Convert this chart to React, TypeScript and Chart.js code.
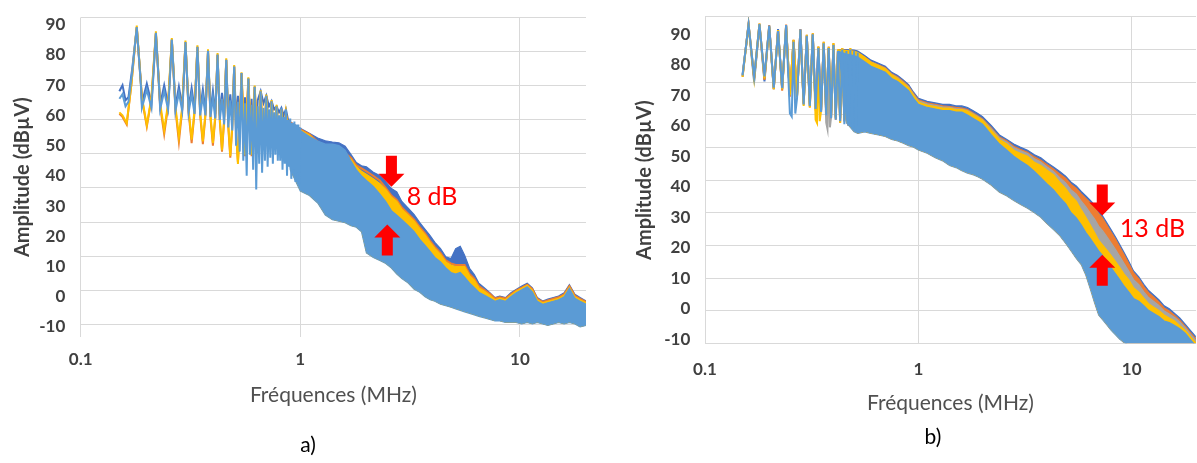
import React, { useEffect, useRef } from 'react';
import { Chart, registerables } from 'chart.js';

Chart.register(...registerables);

type Pair = [number, number];

// ---------- colours (Excel default palette) ----------
const C_DB = '#4472C4';
const C_OR = '#ED7D31';
const C_GR = '#A5A5A5';
const C_YE = '#FFC000';
const C_LB = '#5B9BD5';
const GRID = '#D9D9D9';

// ---------- axis texts / ticks ----------
const X_TITLE = 'Fréquences (MHz)';
const Y_TITLE = 'Amplitude (dBµV)';
const X_TICKS = [0.1, 1, 10];
const X_TICK_LABELS = ['0.1', '1', '10'];
const Y_TICKS = [-10, 0, 10, 20, 30, 40, 50, 60, 70, 80, 90];
const A_GRID_TICKS = [-10, 0, 10, 20, 30, 40, 50, 60, 70, 80];
const B_GRID_TICKS = [-10, 0, 10, 20, 30, 40, 50, 60, 70, 80, 90];

// =====================================================================
// Panel a) — low-frequency harmonics (frequency MHz, amplitude dBµV)
// =====================================================================
const A_LB_LOW: Pair[] = [
  [0.15, 65.5], [0.155, 67], [0.16, 63], [0.165, 64.5], [0.172, 75], [0.18, 89.2], [0.188, 70], [0.19, 62.5],
  [0.2, 68.5], [0.21, 62.5], [0.213, 70], [0.22, 87.3], [0.228, 68], [0.23, 62], [0.24, 68], [0.25, 62],
  [0.253, 68], [0.26, 85.1], [0.268, 67], [0.27, 61.5], [0.28, 67.5], [0.29, 61.5], [0.293, 67], [0.3, 84.3],
  [0.308, 66], [0.31, 61], [0.32, 67], [0.33, 60.5], [0.333, 66], [0.34, 82.7], [0.35, 60], [0.36, 66.5],
  [0.37, 60], [0.38, 81.4], [0.39, 59.5], [0.4, 66], [0.41, 59], [0.42, 80.1], [0.43, 58.5], [0.44, 65.5],
  [0.45, 57], [0.46, 78.4], [0.47, 56], [0.48, 65], [0.49, 55], [0.5, 76.2], [0.51, 50], [0.52, 64.5],
  [0.53, 48], [0.54, 74], [0.55, 45], [0.56, 64], [0.57, 40], [0.58, 72.2], [0.59, 47], [0.6, 63.5],
  [0.61, 42], [0.62, 69.5], [0.63, 35.5], [0.64, 63], [0.65, 44], [0.66, 68], [0.67, 41], [0.68, 62.5],
  [0.69, 45], [0.7, 66.5], [0.71, 43], [0.72, 62], [0.73, 46], [0.74, 64.7], [0.75, 44], [0.76, 61],
  [0.77, 47], [0.78, 63], [0.79, 45], [0.8, 60], [0.81, 45], [0.82, 62.5], [0.83, 42], [0.84, 59.5],
  [0.85, 44], [0.86, 62], [0.87, 40], [0.88, 58.5], [0.89, 43], [0.9, 59], [0.91, 39], [0.92, 57.5],
  [0.93, 42], [0.94, 58], [0.95, 38], [0.96, 57], [0.97, 41], [0.98, 57], [0.99, 37], [1.0, 56],
];
const A_YE_LOW: Pair[] = [
  [0.15, 61], [0.155, 60], [0.162, 57.4], [0.17, 70], [0.18, 89.7], [0.19, 66], [0.2, 56.8], [0.21, 66],
  [0.22, 87.8], [0.23, 64], [0.24, 55.2], [0.25, 64], [0.26, 85.6], [0.27, 63], [0.28, 53], [0.29, 63],
  [0.3, 84.8], [0.31, 62], [0.32, 52], [0.33, 62], [0.34, 83.2], [0.35, 61], [0.36, 51.4], [0.37, 61],
  [0.38, 81.9], [0.39, 60], [0.4, 50.9], [0.41, 60], [0.42, 80.6], [0.43, 59], [0.44, 48.5], [0.45, 59],
  [0.46, 78.9], [0.47, 57], [0.48, 46.6], [0.49, 57], [0.5, 76.7], [0.51, 55], [0.52, 43.9], [0.53, 56],
  [0.54, 74.3], [0.56, 47], [0.58, 72.6], [0.6, 47], [0.62, 69.9], [0.64, 48], [0.66, 68.3], [0.68, 50],
  [0.7, 66.9], [0.72, 51], [0.74, 65.1], [0.76, 52], [0.78, 63.5], [0.8, 53], [0.82, 62], [0.84, 54],
  [0.86, 61], [0.88, 55], [0.9, 57.5],
];
const A_OR_LOW: Pair[] = [
  [0.15, 60.5], [0.155, 59.5], [0.162, 57], [0.17, 70], [0.18, 89.2], [0.19, 65.5], [0.2, 56.3], [0.21, 65.5],
  [0.22, 87.3], [0.23, 63], [0.24, 53.8], [0.25, 63], [0.26, 85.1], [0.27, 62], [0.28, 51.2], [0.29, 62],
  [0.3, 84.3], [0.31, 61], [0.32, 50.8], [0.33, 61], [0.34, 82.7], [0.35, 60], [0.36, 50.5], [0.37, 60],
  [0.38, 81.4], [0.39, 59], [0.4, 50], [0.41, 59], [0.42, 80.1], [0.43, 58], [0.44, 48], [0.45, 58],
  [0.46, 78.4], [0.47, 56], [0.48, 46], [0.49, 56], [0.5, 76.2], [0.51, 54], [0.52, 44.5], [0.53, 55],
  [0.54, 73.8], [0.56, 46.5], [0.58, 72.2], [0.6, 46.5], [0.62, 69.5], [0.64, 47.5], [0.66, 67.9], [0.68, 49.5],
  [0.7, 66.5], [0.72, 50.5], [0.74, 64.7], [0.76, 51.5], [0.78, 63.1], [0.8, 52.5], [0.82, 62], [0.84, 53.5],
  [0.86, 60.5], [0.88, 55], [0.9, 57.7],
];
const A_DB_LOW: Pair[] = [
  [0.15, 68], [0.155, 70], [0.16, 65], [0.165, 66], [0.172, 76], [0.18, 89], [0.188, 71], [0.19, 64],
  [0.2, 70.5], [0.21, 64], [0.213, 71], [0.22, 87], [0.228, 69], [0.23, 63.5], [0.24, 70], [0.25, 63.5],
  [0.253, 69], [0.26, 85], [0.268, 68], [0.27, 63], [0.28, 69.5], [0.29, 63], [0.3, 84], [0.31, 62.5],
  [0.32, 69], [0.33, 62], [0.34, 82.5], [0.35, 62], [0.36, 68.5], [0.37, 61.5], [0.38, 81.2], [0.39, 61],
  [0.4, 68], [0.41, 60.5], [0.42, 80], [0.43, 60], [0.44, 67.5], [0.45, 59.5], [0.46, 78.3], [0.47, 59],
  [0.48, 67], [0.49, 58.5], [0.5, 76.2], [0.51, 58], [0.52, 66.5], [0.53, 57], [0.54, 74], [0.55, 56],
  [0.56, 66], [0.57, 55], [0.58, 72.2], [0.59, 54], [0.6, 65.5], [0.61, 52], [0.62, 69.5], [0.63, 53],
  [0.64, 65], [0.66, 68], [0.68, 64], [0.7, 66.5], [0.72, 63], [0.74, 64.7], [0.76, 62], [0.78, 63],
  [0.8, 61], [0.82, 62.5], [0.84, 60], [0.86, 62], [0.88, 58.5], [0.9, 57.9],
];

// Panel a) — dense part, envelopes on a common frequency list
const A_F = [
  0.85, 0.9, 1.0, 1.1, 1.2, 1.3, 1.4, 1.5, 1.6, 1.7, 1.8, 1.9, 2.0, 2.15, 2.3, 2.45, 2.6, 2.75, 2.9, 3.1,
  3.3, 3.5, 3.7, 3.9, 4.1, 4.35, 4.6, 4.85, 5.1, 5.35, 5.6, 5.9, 6.2, 6.5, 6.9, 7.3, 7.7, 8.1, 8.6, 9.1,
  9.6, 10.2, 10.8, 11.4, 12.0, 12.7, 13.4, 14.2, 15.0, 15.9, 16.8, 17.8, 18.8, 20.0,
];
const A_DB_UP = [
  59.5, 57.9, 55.7, 54.1, 52.5, 51.6, 51.2, 50.9, 49.8, 47.1, 44.4, 43.3, 43.0, 41.2, 40.1, 38.0, 35.8, 34.7, 31.5, 29.3,
  27.2, 24.5, 22.3, 20.2, 18.0, 15.9, 13.2, 12.6, 15.9, 16.7, 13.7, 9.4, 7.3, 4.5, 2.9, 1.3, -0.3, 0.2, -0.3, 1.3,
  2.4, 3.5, 4.5, 2.9, -0.3, -1.4, -0.8, -0.3, 0.2, 1.3, 4.0, 0.8, -0.3, -1.4,
];
const A_OR_UP = [
  59, 57.7, 55.4, 53.8, 51.3, 49.5, 48.5, 48, 47.5, 46, 43.5, 42.5, 41.5, 40, 38.5, 36, 33.5, 32, 29.5, 27.5,
  25.5, 23, 21, 18.5, 16.5, 14.5, 12, 11, 10.5, 10.5, 10.5, 7.5, 6, 3.5, 2.2, 1, -0.6, -0.2, -0.6, 0.8,
  2, 3, 4, 2.5, -0.7, -1.7, -1.2, -0.7, -0.2, 0.8, 3.5, 0.3, -0.7, -1.7,
];
const A_YE_UP = [
  58.8, 57.5, 55.2, 53.5, 51, 49, 48, 47.5, 47, 45.5, 43, 41.5, 40.5, 39, 37.5, 35.5, 33, 31.5, 29, 27,
  25, 22.5, 20.5, 18, 16, 14, 11.5, 10.5, 10, 10, 10, 7, 5.5, 3, 1.8, 0.5, -1, -0.5, -1, 0.5,
  1.8, 2.8, 3.8, 2.2, -1, -2, -1.5, -1, -0.5, 0.5, 3.2, 0, -1, -2,
];
const A_LB_UP = [
  58.5, 56, 55, 53, 51.5, 50.5, 50.5, 50, 48.5, 45, 42, 40, 38.5, 36.5, 34, 31.5, 28.5, 27, 25.5, 23.5,
  21.5, 19, 17, 15, 13, 11.5, 9.5, 8, 7.5, 8, 6.5, 4.5, 3, 1.5, 0.5, -0.5, -1.5, -1, -1.5, 0,
  1.2, 2.3, 3.3, 1.6, -1.5, -2.5, -2, -1.5, -1, 0, 2.8, -0.5, -1.5, -2.5,
];
const A_LB_LO = [
  58.5, 42, 35, 33.5, 31, 27, 25.5, 25, 24.5, 23.5, 23, 21.5, 14.5, 13, 12, 11, 9.5, 7.5, 6, 4.5,
  2.5, 1.5, 0, -1, -1.5, -2.5, -3, -3.5, -4, -4.5, -5, -5.5, -6, -6.5, -7, -7.5, -8, -8, -8.5, -8.5,
  -8.5, -9, -8.5, -9, -8.5, -9, -9.5, -9, -8.5, -9, -8.5, -9, -10, -9.5,
];

// =====================================================================
// Panel b)
// =====================================================================
const B_LB_LOW: Pair[] = [
  [0.15, 76.5], [0.16, 93.2], [0.17, 76], [0.18, 93.3], [0.19, 76.2], [0.2, 92.8], [0.21, 72.5], [0.22, 91],
  [0.23, 72.3], [0.24, 93], [0.25, 64], [0.255, 63], [0.26, 87.5], [0.265, 64], [0.27, 69], [0.28, 91.5],
  [0.29, 67], [0.3, 89.5], [0.31, 66.5], [0.32, 90], [0.33, 65.5], [0.34, 85.5], [0.35, 64.5], [0.36, 87],
  [0.37, 63.5], [0.38, 85.5], [0.39, 62.5], [0.4, 86.5], [0.41, 62], [0.42, 84.5], [0.43, 61.5], [0.44, 85],
  [0.45, 60.5], [0.46, 84.5], [0.47, 60], [0.48, 85], [0.49, 59], [0.5, 84.5], [0.51, 58.5], [0.52, 84],
];
const B_YE_LOW: Pair[] = [
  [0.15, 76], [0.16, 93], [0.17, 75.5], [0.18, 93.5], [0.19, 75.5], [0.2, 92.5], [0.21, 72], [0.22, 91.4],
  [0.23, 72], [0.24, 92.7], [0.25, 70], [0.26, 88.2], [0.27, 69.5], [0.28, 91.2], [0.29, 66.5], [0.3, 89.8],
  [0.31, 66], [0.32, 90.3], [0.33, 62], [0.335, 61], [0.34, 86], [0.345, 61.5], [0.35, 65], [0.36, 87.5],
  [0.37, 64], [0.38, 85.8], [0.39, 63], [0.4, 87.1], [0.41, 62.5], [0.42, 85], [0.43, 61], [0.44, 85.5],
  [0.45, 62], [0.46, 84.5], [0.47, 61.5], [0.48, 85.5], [0.49, 61], [0.5, 84.5],
];
const B_GR_LOW: Pair[] = [
  [0.15, 76.3], [0.16, 93.3], [0.17, 76], [0.18, 93.2], [0.19, 76], [0.2, 92.7], [0.21, 72.5], [0.22, 91.2],
  [0.23, 72.5], [0.24, 93], [0.25, 70], [0.26, 88], [0.27, 70], [0.28, 91.5], [0.29, 67], [0.3, 89.6],
  [0.31, 66.5], [0.32, 90], [0.33, 65.5], [0.34, 85.8], [0.35, 65], [0.36, 87.2], [0.37, 61], [0.375, 59],
  [0.38, 85.5], [0.385, 59.5], [0.39, 63], [0.4, 86.8], [0.41, 62.5], [0.42, 84.8], [0.43, 62], [0.44, 85.2],
  [0.45, 61.5], [0.46, 84.3], [0.47, 61], [0.48, 85.2], [0.49, 60.5], [0.5, 84.3],
];
const B_OR_LOW: Pair[] = [
  [0.15, 76], [0.16, 93.4], [0.17, 75.5], [0.18, 93.5], [0.19, 75], [0.2, 93], [0.21, 72], [0.22, 91.4],
  [0.23, 71.5], [0.24, 93.2], [0.25, 69.5], [0.26, 88.2], [0.27, 69.5], [0.28, 91.7], [0.29, 67], [0.3, 89.8],
  [0.31, 66], [0.32, 90.3], [0.33, 65], [0.34, 86], [0.35, 64.5], [0.36, 87.5], [0.37, 63.5], [0.38, 86],
  [0.39, 62.5], [0.4, 87], [0.41, 62], [0.42, 85], [0.43, 61], [0.44, 85.5], [0.45, 61.4], [0.46, 84.5],
  [0.47, 60], [0.48, 85.3], [0.49, 59.5], [0.5, 84.6],
];
const B_DB_LOW: Pair[] = [
  [0.15, 76.8], [0.16, 93], [0.17, 74.5], [0.18, 93], [0.19, 74.5], [0.2, 92.5], [0.21, 72], [0.22, 91.7],
  [0.23, 72], [0.24, 92.8], [0.25, 70], [0.26, 88], [0.27, 70], [0.28, 91.5], [0.29, 67.5], [0.3, 89.5],
  [0.31, 67], [0.32, 90], [0.33, 66], [0.34, 85.8], [0.35, 65], [0.36, 87], [0.37, 64.5], [0.38, 85.5],
  [0.39, 63.5], [0.4, 86.5], [0.41, 63], [0.42, 84.5], [0.43, 62.5], [0.44, 85], [0.45, 62], [0.46, 84.5],
  [0.47, 61.5], [0.48, 85], [0.49, 60], [0.5, 84.5],
];

const B_F = [
  0.42, 0.46, 0.5, 0.52, 0.56, 0.6, 0.65, 0.7, 0.75, 0.8, 0.85, 0.9, 0.95, 1.0, 1.1, 1.2, 1.3, 1.4, 1.5, 1.6,
  1.7, 1.8, 1.9, 2.0, 2.2, 2.4, 2.6, 2.8, 3.0, 3.25, 3.5, 3.75, 4.0, 4.3, 4.6, 4.9, 5.2, 5.5, 5.8, 6.1,
  6.4, 6.7, 7.0, 7.3, 7.6, 8.0, 8.4, 8.8, 9.2, 9.7, 10.2, 10.8, 11.4, 12.0, 12.7, 13.4, 14.2, 15.0, 15.9, 16.8,
  17.8, 18.8, 20.0,
];
const B_DB_UP = [
  85, 85, 84.8, 84.5, 83, 81.5, 80.5, 79.5, 77.5, 76.5, 75, 73.5, 71, 69, 68, 67.5, 67, 67, 66.5, 66.5,
  66, 65, 64, 63, 60, 57, 55.5, 54, 53, 52, 50.5, 49.5, 48, 46.5, 45, 43.5, 41.5, 40.3, 38.5, 37,
  35.5, 34, 32, 30.5, 28.5, 26, 23.5, 21, 18.5, 15.5, 12.4, 10.5, 8, 6, 4.5, 3, 1, 0, -1.5, -3,
  -5, -7, -9.2,
];
const B_OR_UP = [
  84.8, 84.7, 84.3, 84, 82.5, 81, 80, 79, 77, 76, 74.5, 73, 70.5, 68.5, 67.5, 67, 66.5, 66.3, 66, 65.8,
  65.3, 64.3, 63.3, 62.2, 59.3, 56.3, 55, 53.3, 52.3, 51.3, 49.8, 48.7, 47.3, 45.8, 44.2, 42.8, 40.8, 39.5, 37.7, 36.2,
  34.7, 33.2, 31.2, 29.7, 27.7, 25.2, 22.8, 20.2, 17.8, 14.8, 11.8, 9.8, 7.3, 5.3, 3.8, 2.3, 0.3, -0.7, -2.2, -3.7,
  -5.7, -7.7, -9.9,
];
const B_GR_UP = [
  84.6, 84.5, 84.2, 83.8, 82.3, 80.9, 79.8, 78.8, 76.8, 75.7, 74.2, 72.7, 70.2, 68.2, 67.2, 66.7, 66.2, 66, 65.6, 65.5,
  65, 64, 63, 62, 59, 56, 54.6, 52.9, 51.9, 50.9, 49.2, 48.1, 46.6, 45, 43, 41.3, 39, 37.6, 35.3, 33.4,
  31.3, 29.4, 27.1, 25.6, 23.9, 21.6, 19.4, 17.1, 14.9, 12.3, 9.6, 7.9, 5.6, 3.7, 2.4, 1.1, -0.7, -1.7, -2.8, -4.3,
  -6.2, -8.2, -10.4,
];
const B_YE_UP = [
  84.9, 84.6, 84.4, 84, 82.5, 80.8, 79.7, 78.7, 76.7, 75.5, 74, 72.5, 70, 67.8, 66.8, 66.3, 65.8, 65.8, 65.3, 65.3,
  64.8, 63.8, 62.8, 61.8, 58.5, 55.5, 54, 52, 51, 50, 48, 47, 45.5, 44, 41.5, 39.5, 37, 35.3, 32.5, 30,
  27.5, 25, 22.5, 21, 19.5, 17.5, 15.5, 13.5, 11.5, 9.5, 6.9, 5.5, 3.5, 1.7, 0.5, -0.5, -2, -3, -4, -5.5,
  -7, -9, -11.2,
];
const B_LB_UP = [
  84.5, 83.5, 83, 82.5, 81, 79.5, 78.5, 77.5, 75.5, 74.5, 73, 71.5, 69, 67, 66, 65.5, 65, 65, 64.5, 64.5,
  63.5, 62.5, 61.5, 60.5, 57, 54, 52, 50, 48.5, 47, 45, 43, 41, 39, 36.5, 34.5, 31.5, 29.8, 27.5, 25,
  23, 21, 19, 17.5, 15.5, 13.5, 11.5, 9.5, 7.5, 5.5, 3.4, 2.5, 1, -0.5, -1.5, -2.5, -4, -4.5, -5.5, -6.5,
  -8, -10, -12.2,
];
const B_LB_LO = [
  84.5, 61, 58, 57.5, 58, 57.5, 57, 56.5, 55.5, 55, 54.3, 53.5, 53, 52.1, 51, 49.5, 48.5, 47, 46.3, 45.3,
  44.5, 44, 43.3, 42.5, 40.5, 38.2, 37, 35.5, 34.3, 33, 31.5, 30, 28, 26, 24, 21.5, 19, 16.5, 14.5, 11,
  6.5, 2, -2, -3.5, -5, -7, -8.5, -10, -11, -12, -14, -14, -14, -14, -14, -14, -14, -14, -14, -14,
  -14, -14, -14,
];

// annotations (data coordinates)
const A_ANNOT = { downF: 2.6, downV: 36.4, upF: 2.49, upV: 23.9, text: '8 dB', textF: 3.05, textV: 32.9 };
const B_ANNOT = { downF: 7.28, downV: 30.6, upF: 7.28, upV: 17.7, text: '13 dB', textF: 8.8, textV: 26.2 };

// ---------------------------------------------------------------------
const toPts = (pairs: Pair[]) => pairs.map(([x, y]) => ({ x, y }));
const zipPts = (fs: number[], vs: number[]) => fs.map((x, i) => ({ x, y: vs[i] }));

type Layer = { color: string; low: Pair[] | null; up: number[]; fill: boolean };

function buildDatasets(freqs: number[], layers: Layer[], lower: number[]) {
  const ds: any[] = [];
  const fillers: any[] = [];
  layers.forEach((l) => {
    if (l.low) {
      ds.push({
        data: toPts(l.low), borderColor: l.color, borderWidth: 2, pointRadius: 0,
        tension: 0, fill: false, xAxisID: 'x', yAxisID: 'y',
      });
    }
    const band: any = {
      data: zipPts(freqs, l.up), borderColor: l.color, backgroundColor: l.color,
      borderWidth: l.fill ? 1.2 : 2, pointRadius: 0, tension: 0, xAxisID: 'x', yAxisID: 'y', fill: false,
    };
    if (l.fill) fillers.push(band);
    ds.push(band);
  });
  const lowerIdx = ds.length;
  fillers.forEach((b) => { b.fill = { target: lowerIdx }; });
  ds.push({
    data: zipPts(freqs, lower), borderColor: C_LB, borderWidth: 1.2, pointRadius: 0,
    tension: 0, fill: false, xAxisID: 'x', yAxisID: 'y',
  });
  return ds;
}

const arrowPlugin = {
  id: 'dbArrows',
  afterDatasetsDraw(chart: any, _args: any, opts: any) {
    if (!opts || !opts.text) return;
    const { ctx } = chart;
    const xs = chart.scales.x;
    const ys = chart.scales.y;
    const arrow = (px: number, py: number, s: number) => {
      ctx.beginPath();
      ctx.moveTo(px, py);
      ctx.lineTo(px - 13, py - s * 13);
      ctx.lineTo(px - 5.5, py - s * 13);
      ctx.lineTo(px - 5.5, py - s * 31);
      ctx.lineTo(px + 5.5, py - s * 31);
      ctx.lineTo(px + 5.5, py - s * 13);
      ctx.lineTo(px + 13, py - s * 13);
      ctx.closePath();
      ctx.fill();
    };
    ctx.save();
    ctx.fillStyle = '#FF0000';
    arrow(xs.getPixelForValue(opts.downF), ys.getPixelForValue(opts.downV), 1);
    arrow(xs.getPixelForValue(opts.upF), ys.getPixelForValue(opts.upV), -1);
    ctx.font = '25px Lato';
    ctx.textAlign = 'left';
    ctx.textBaseline = 'middle';
    ctx.fillText(opts.text, xs.getPixelForValue(opts.textF), ys.getPixelForValue(opts.textV));
    ctx.restore();
  },
};

type PanelCfg = {
  left: number; width: number; padRight: number; padTop: number;
  yAxisWidth: number; yTickPad: number; yTitlePad: number; yMin: number; yMax: number;
  gridMin: number; gridMax: number; gridTicks: number[];
  xAxisHeight: number; xTickPad: number; xTitlePadBottom: number;
  panelLabel: string; labelCx: number; labelTop: number;
  datasets: any[]; annot: any;
};

const TICK_FONT = { family: 'Lato', size: 17, weight: 'bold' as const };
const TICK_COLOR = '#404040';

const PANEL_A: PanelCfg = {
  left: 0, width: 600, padRight: 14, padTop: 10,
  yAxisWidth: 80.7, yTickPad: 7.4, yTitlePad: 10.5, yMin: -13.23, yMax: 92.36,
  gridMin: -13.64, gridMax: 80, gridTicks: A_GRID_TICKS,
  xAxisHeight: 126.3, xTickPad: 13.1, xTitlePadBottom: 55.4,
  panelLabel: 'a)', labelCx: 308, labelTop: 432.5,
  datasets: buildDatasets(A_F, [
    { color: C_LB, low: A_LB_LOW, up: A_LB_UP, fill: true },
    { color: C_YE, low: A_YE_LOW, up: A_YE_UP, fill: true },
    { color: C_OR, low: A_OR_LOW, up: A_OR_UP, fill: false },
    { color: C_DB, low: A_DB_LOW, up: A_DB_UP, fill: true },
  ], A_LB_LO),
  annot: A_ANNOT,
};

const PANEL_B: PanelCfg = {
  left: 600, width: 597, padRight: 1.1, padTop: 11.7,
  yAxisWidth: 105, yTickPad: 6.7, yTitlePad: 32.5, yMin: -11.29, yMax: 95.68,
  gridMin: -10, gridMax: 90, gridTicks: B_GRID_TICKS,
  xAxisHeight: 119.7, xTickPad: 16.5, xTitlePadBottom: 47.4,
  panelLabel: 'b)', labelCx: 933, labelTop: 424.5,
  datasets: buildDatasets(B_F, [
    { color: C_LB, low: B_LB_LOW, up: B_LB_UP, fill: true },
    { color: C_YE, low: B_YE_LOW, up: B_YE_UP, fill: true },
    { color: C_GR, low: B_GR_LOW, up: B_GR_UP, fill: true },
    { color: C_OR, low: B_OR_LOW, up: B_OR_UP, fill: true },
    { color: C_DB, low: B_DB_LOW, up: B_DB_UP, fill: true },
  ], B_LB_LO),
  annot: B_ANNOT,
};

function Panel({ cfg }: { cfg: PanelCfg }) {
  const ref = useRef<HTMLCanvasElement>(null);
  useEffect(() => {
    if (!ref.current) return;
    const chart = new Chart(ref.current, {
      type: 'line',
      data: { datasets: cfg.datasets },
      plugins: [arrowPlugin],
      options: {
        responsive: false,
        animation: false,
        devicePixelRatio: 1,
        events: [],
        layout: { padding: { left: 0, right: cfg.padRight, top: cfg.padTop, bottom: 0 } },
        plugins: {
          legend: { display: false },
          tooltip: { enabled: false },
          title: { display: false },
          dbArrows: cfg.annot,
        } as any,
        scales: {
          x: {
            type: 'logarithmic', position: 'bottom', min: 0.1, max: 20,
            afterBuildTicks: (s: any) => { s.ticks = X_TICKS.map((value) => ({ value })); },
            afterFit: (s: any) => { s.height = cfg.xAxisHeight; },
            ticks: {
              autoSkip: false, maxRotation: 0, padding: cfg.xTickPad, color: TICK_COLOR, font: TICK_FONT,
              callback: (_v: any, i: number) => X_TICK_LABELS[i],
            },
            grid: { color: GRID, lineWidth: 1, drawTicks: false },
            border: { display: false },
            title: {
              display: true, text: X_TITLE, color: '#505050',
              font: { family: 'Lato', size: 21, weight: 'normal' },
              padding: { top: 0, bottom: cfg.xTitlePadBottom },
            },
          },
          y: {
            type: 'linear', position: 'left', min: cfg.yMin, max: cfg.yMax,
            afterBuildTicks: (s: any) => { s.ticks = Y_TICKS.map((value) => ({ value })); },
            afterFit: (s: any) => { s.width = cfg.yAxisWidth; },
            ticks: { padding: cfg.yTickPad, color: TICK_COLOR, font: TICK_FONT },
            grid: { display: false },
            border: { display: false },
            title: {
              display: true, text: Y_TITLE, color: '#404040',
              font: { family: 'Lato', size: 20, weight: 'bold' },
              padding: { top: cfg.yTitlePad, bottom: 0 },
            },
          },
          yGrid: {
            type: 'linear', position: 'right', min: cfg.gridMin, max: cfg.gridMax,
            afterBuildTicks: (s: any) => { s.ticks = cfg.gridTicks.map((value) => ({ value })); },
            afterFit: (s: any) => { s.width = 0; },
            ticks: { display: false },
            grid: { color: GRID, lineWidth: 1, drawTicks: false },
            border: { display: false },
          },
        } as any,
      },
    });
    return () => chart.destroy();
  }, [cfg]);
  return (
    <>
      <canvas
        ref={ref}
        width={cfg.width}
        height={463}
        style={{ position: 'absolute', left: cfg.left, top: 0, width: cfg.width, height: 463 }}
      />
      <div
        style={{
          position: 'absolute', left: cfg.labelCx - 30, top: cfg.labelTop, width: 60, textAlign: 'center',
          fontFamily: 'Lato', fontSize: 21, lineHeight: '21px', color: '#000000',
        }}
      >
        {cfg.panelLabel}
      </div>
    </>
  );
}

export default function App() {
  return (
    <div style={{ position: 'absolute', left: 0, top: 0, width: 1197, height: 463, background: '#FFFFFF', overflow: 'hidden' }}>
      <Panel cfg={PANEL_A} />
      <Panel cfg={PANEL_B} />
    </div>
  );
}
